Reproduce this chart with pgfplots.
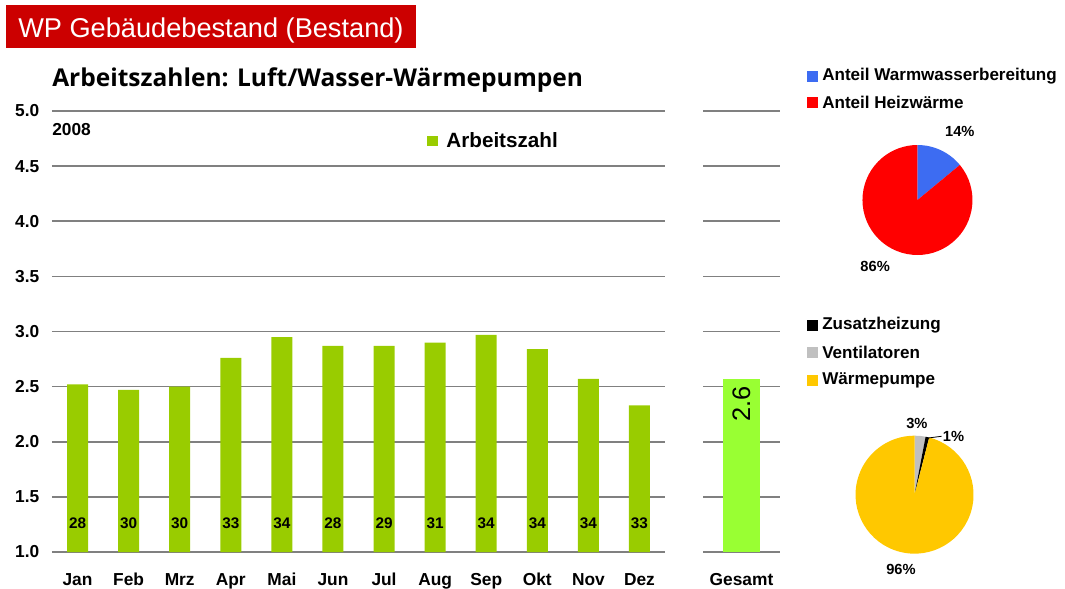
\documentclass[border=0pt]{standalone}
\usepackage{fontspec}
\setmainfont{Liberation Sans}
\newfontfamily\subtitlefont{Open Sans}
\usepackage{graphicx}
\usepackage{pgfplots}
\usepackage{pgfplotstable}
\pgfplotsset{compat=1.18}
\definecolor{barGreen}{HTML}{99CC00}
\definecolor{totGreen}{HTML}{99FF33}
\definecolor{titleRed}{HTML}{CC0000}
\definecolor{gridGray}{HTML}{808080}
\definecolor{pieBlue}{HTML}{3D6CF2}
\definecolor{pieRed}{HTML}{FF0000}
\definecolor{pieYellow}{HTML}{FFC800}
\definecolor{pieGrey}{HTML}{C0C0C0}

\pgfplotstableread{
x y ly lab
0 2.52 1.26 28
1 2.47 1.26 30
2 2.50 1.26 30
3 2.76 1.26 33
4 2.95 1.26 34
5 2.87 1.26 28
6 2.87 1.26 29
7 2.90 1.26 31
8 2.97 1.26 34
9 2.84 1.26 34
10 2.57 1.26 34
11 2.33 1.26 33
}\monthdata

\newcommand{\pieslice}[4]{%
  \fill[#3] (axis cs:0,0) -- ++({90-3.6*(#1)}:#4) arc[start angle={90-3.6*(#1)}, end angle={90-3.6*(#1+#2)}, radius=#4] -- cycle;}

\pgfplotsset{
  barbase/.style={
    scale only axis, height=330.75pt,
    ymin=1, ymax=5,
    ytick={1,1.5,2,2.5,3,3.5,4,4.5,5},
    axis line style={draw=none},
    major tick length=0pt,
    ymajorgrids, grid style={draw=gridGray, line width=1.2pt},
    ticklabel style={font=\fontsize{13}{15}\selectfont\bfseries},
    yticklabel style={/pgf/number format/fixed, /pgf/number format/fixed zerofill,
      /pgf/number format/precision=1, /pgf/number format/assume math mode=true},
    xticklabel style={text height=9.5pt, text depth=2.8pt, yshift=-12.4pt},
  },
  piebase/.style={
    scale only axis, hide axis, anchor=center,
    xmin=-1, xmax=1, ymin=-1, ymax=1, clip=false,
  },
}

\begin{document}
\begin{tikzpicture}
\path[use as bounding box] (0,0) rectangle (798.75pt,-441.75pt);

% main monthly chart
\begin{axis}[barbase,
  at={(39pt,-414pt)}, anchor=south west, width=459.75pt,
  xmin=-0.5, xmax=11.5,
  xtick={0,...,11},
  xticklabels={Jan,Feb,Mrz,Apr,Mai,Jun,Jul,Aug,Sep,Okt,Nov,Dez},
  yticklabel style={xshift=-6pt},
  legend style={at={(axis description cs:0.612,0.932)}, anchor=west, draw=none, fill=none, inner sep=0pt,
    column sep=4pt, font=\fontsize{15.5}{18}\selectfont\bfseries},
]
\addplot[ybar, bar width=15.75pt, bar shift=0pt, fill=barGreen, draw=none,
  legend image code/.code={\fill[barGreen] (0pt,-4.1pt) rectangle (8.25pt,4.1pt);}]
  table[x=x, y=y] {\monthdata};
\addlegendentry{Arbeitszahl}
\addplot[draw=none, mark=none, forget plot, nodes near coords, point meta=explicit symbolic,
  every node near coord/.style={anchor=center, font=\fontsize{11.5}{13}\selectfont\bfseries}]
  table[x=x, y=ly, meta=lab] {\monthdata};
\node[anchor=west, inner sep=0pt, font=\fontsize{13}{15}\selectfont\bfseries] at (axis cs:-0.5,4.83) {2008};
\end{axis}

% total
\begin{axis}[barbase,
  at={(527.25pt,-414pt)}, anchor=south west, width=57.75pt,
  xmin=-0.5, xmax=0.5, xtick={0}, xticklabels={Gesamt}, yticklabels={},
]
\addplot[ybar, bar width=27.75pt, bar shift=0pt, fill=totGreen, draw=none] coordinates {(0,2.57)};
\node[rotate=90, font=\fontsize{19}{21}\selectfont] at (axis cs:0,2.34) {2.6};
\end{axis}

% pie 1
\begin{axis}[piebase, at={(688.1pt,-150pt)}, width=82.5pt, height=82.5pt]
\pieslice{0}{14}{pieBlue}{41.25pt}
\pieslice{14}{86}{pieRed}{41.25pt}
\node[font=\fontsize{11}{13}\selectfont\bfseries] at (axis cs:0.77,1.25) {14\%};
\node[font=\fontsize{11}{13}\selectfont\bfseries] at (axis cs:-0.77,-1.2) {86\%};
\end{axis}

% pie 2
\begin{axis}[piebase, at={(685.9pt,-371pt)}, width=88.5pt, height=88.5pt]
\pieslice{0}{3}{pieGrey}{44.25pt}
\pieslice{3}{1}{black}{44.25pt}
\pieslice{4}{96}{pieYellow}{44.25pt}
\draw[black, line width=0.6pt] (axis cs:0.23,0.96) -- (axis cs:0.46,0.99);
\node[font=\fontsize{11}{13}\selectfont\bfseries] at (axis cs:0.04,1.215) {3\%};
\node[font=\fontsize{11}{13}\selectfont\bfseries] at (axis cs:0.66,0.98) {1\%};
\node[font=\fontsize{11}{13}\selectfont\bfseries] at (axis cs:-0.23,-1.26) {96\%};
\end{axis}

\begin{scope}[x=0.75pt,y=-0.75pt]
\fill[titleRed] (6,5) rectangle (416,48);
\node[anchor=base west, inner sep=0pt, text=white] at (18,37) {\resizebox{289pt}{!}{WP Gebäudebestand (Bestand)}};
\node[anchor=base west, inner sep=0pt] at (52,86) {\resizebox{398pt}{!}{\subtitlefont\bfseries Arbeitszahlen: Luft/Wasser-Wärmepumpen}};
% pie legends
\fill[pieBlue] (807,71) rectangle (818,82);
\node[anchor=west, inner sep=0pt, font=\fontsize{12.8}{15}\selectfont\bfseries] at (822,76.5) {Anteil Warmwasserbereitung};
\fill[pieRed] (807,97) rectangle (818,108);
\node[anchor=west, inner sep=0pt, font=\fontsize{12.8}{15}\selectfont\bfseries] at (822,102.5) {Anteil Heizwärme};
\fill[black] (807,320) rectangle (818,331);
\node[anchor=west, inner sep=0pt, font=\fontsize{12.8}{15}\selectfont\bfseries] at (822,325.5) {Zusatzheizung};
\fill[pieGrey] (807,347) rectangle (818,358);
\node[anchor=west, inner sep=0pt, font=\fontsize{12.8}{15}\selectfont\bfseries] at (822,352.5) {Ventilatoren};
\fill[pieYellow] (807,375) rectangle (818,386);
\node[anchor=west, inner sep=0pt, font=\fontsize{12.8}{15}\selectfont\bfseries] at (822,380.5) {Wärmepumpe};
\end{scope}
\end{tikzpicture}
\end{document}
